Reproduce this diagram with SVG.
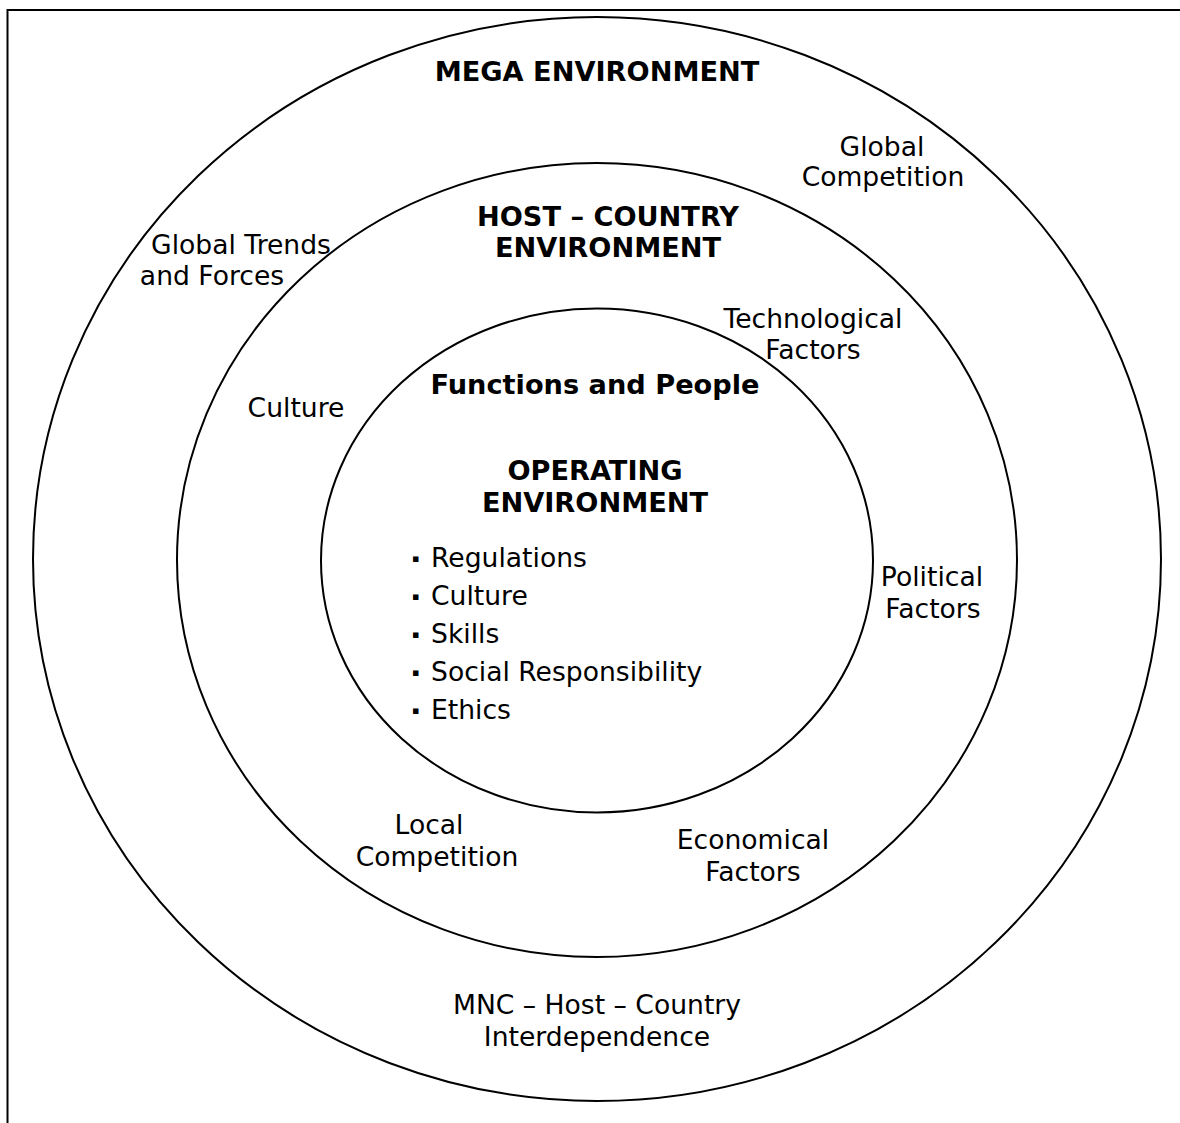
<svg xmlns="http://www.w3.org/2000/svg" width="1180" height="1123" viewBox="0 0 1180 1123">
<style>
.ring{fill:none;stroke:#000;stroke-width:2}
.frame{fill:none;stroke:#000;stroke-width:2}
text{font-family:"DejaVu Sans",Verdana,sans-serif;font-size:26.6px;fill:#000}
.c{text-anchor:middle}
.b{font-weight:bold;font-size:27.2px}
.bul{font-size:11px}
</style>
<rect width="1180" height="1123" fill="#fff"/>
<g id="frame">
<path class="frame" d="M7.5,1123 V10 H1180"/>
</g>
<g id="mega">
<ellipse class="ring" cx="597" cy="559" rx="564" ry="542"/>
<text class="c b" x="597" y="81">MEGA ENVIRONMENT</text>
<text class="c" x="882" y="156">Global</text>
<text class="c" x="883" y="186">Competition</text>
<text class="c" x="241" y="254">Global Trends</text>
<text class="c" x="212" y="285">and Forces</text>
<text class="c" x="597" y="1014">MNC – Host – Country</text>
<text class="c" x="597" y="1046">Interdependence</text>
</g>
<g id="host">
<ellipse class="ring" cx="597" cy="560" rx="420" ry="397"/>
<text class="c b" x="608" y="226">HOST – COUNTRY</text>
<text class="c b" x="608" y="257">ENVIRONMENT</text>
<text class="c" x="813" y="328">Technological</text>
<text class="c" x="813" y="359">Factors</text>
<text class="c" x="296" y="417">Culture</text>
<text class="c" x="932" y="586">Political</text>
<text class="c" x="933" y="618">Factors</text>
<text class="c" x="429" y="834">Local</text>
<text class="c" x="437" y="866">Competition</text>
<text class="c" x="753" y="849">Economical</text>
<text class="c" x="753" y="881">Factors</text>
</g>
<g id="operating">
<ellipse class="ring" cx="597" cy="560.5" rx="276" ry="252"/>
<text class="c b" x="595" y="394">Functions and People</text>
<text class="c b" x="595" y="480">OPERATING</text>
<text class="c b" x="595" y="512">ENVIRONMENT</text>
<text class="bul" x="412" y="562">▪</text><text x="431" y="567">Regulations</text>
<text class="bul" x="412" y="600">▪</text><text x="431" y="605">Culture</text>
<text class="bul" x="412" y="638">▪</text><text x="431" y="643">Skills</text>
<text class="bul" x="412" y="676">▪</text><text x="431" y="681">Social Responsibility</text>
<text class="bul" x="412" y="714">▪</text><text x="431" y="719">Ethics</text>
</g>
<g id="connectors"/>
</svg>
